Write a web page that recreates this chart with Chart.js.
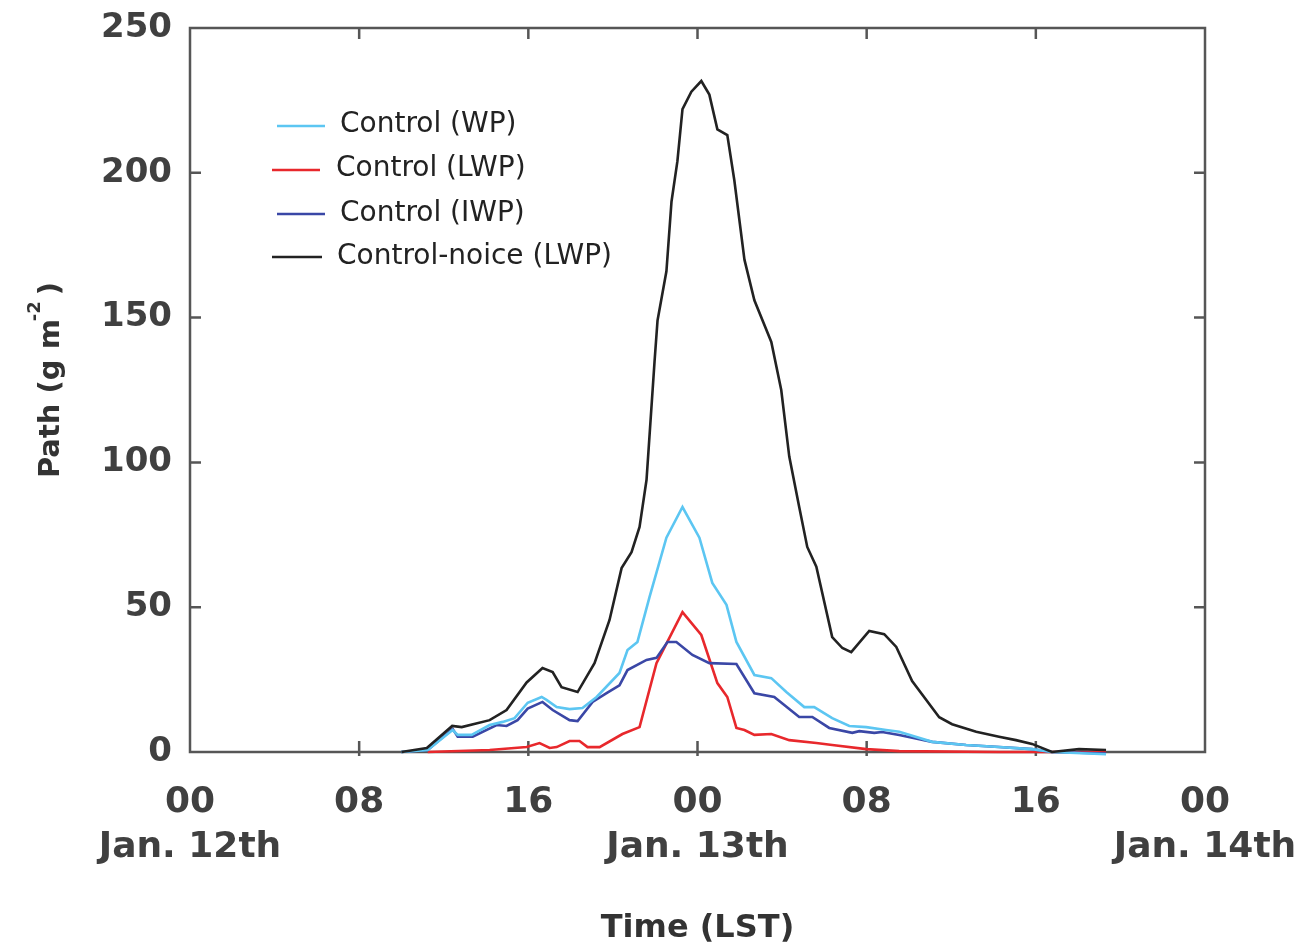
<!DOCTYPE html>
<html><head><meta charset="utf-8">
<script src="https://cdn.jsdelivr.net/npm/chart.js@4.4.1/dist/chart.umd.min.js"></script>
<style>html,body{margin:0;padding:0;background:#fff;}#wrap{width:1316px;height:952px;}</style>
</head><body><div id="wrap"><canvas id="c" width="1316" height="952"></canvas></div>
<script>
// ---- Data (hours since 00 LST Jan. 12th, values in g m^-2) ----
const xTickHours = [0, 8, 16, 24, 32, 40, 48];
const xTickHourLabels = ['00', '08', '16', '00', '08', '16', '00'];
const xTickDayLabels = ['Jan. 12th', '', '', 'Jan. 13th', '', '', 'Jan. 14th'];
const yTicks = [0, 50, 100, 150, 200, 250];

const noiceHours = [10.0,11.2,12.4,12.85,14.17,14.97,15.92,16.67,17.15,17.57,18.33,19.13,19.84,20.41,20.88,21.26,21.59,21.97,22.11,22.53,22.77,23.05,23.29,23.71,24.18,24.56,24.94,25.41,25.74,26.22,26.69,27.49,27.96,28.34,28.81,29.19,29.62,30.37,30.85,31.27,32.12,32.83,33.4,34.15,35.43,36.04,37.18,38.26,39.06,39.82,40.76,42.04,43.32];
const noiceLWP   = [0,1.4,9,8.6,11,14.5,24,29,27.6,22.4,20.7,30.7,45.6,63.5,69,77.7,94,135,149,166,190,204,222,228,231.7,227,215,213,197.5,170,156,141.6,125,102,84.6,70.8,64,39.7,35.9,34.5,41.8,40.7,36.3,24.5,12,9.6,7,5.3,4.1,2.8,0,1,0.7];

const wpHours = [10.0,11.24,12.42,12.66,13.32,14.17,14.79,15.35,15.97,16.63,16.86,17.34,17.95,18.56,19.23,20.31,20.69,21.16,21.73,22.53,23.29,24.09,24.7,25.37,25.84,26.69,27.49,28.2,29.05,29.52,30.37,31.18,31.98,32.92,33.54,35.1,36.7,38.26,39.82,40.76,43.32];
const wpValues = [0,0.7,7.6,5.9,5.9,9.3,10.4,11.7,17,19,18,15.5,14.8,15.2,19,27.3,35.2,38,53.5,74,84.6,74,58.4,50.8,38,26.6,25.5,20.7,15.5,15.5,11.7,9,8.6,7.6,7,3.5,2.4,1.7,1,0,-0.8];

const lwpHours = [11.24,14.17,15.92,16.53,17.01,17.34,17.95,18.42,18.8,19.37,20.45,21.26,22.06,23.29,24.18,24.94,25.41,25.84,26.22,26.69,27.49,28.34,29.62,30.37,31.98,33.54,38.26,43.32];
const lwpValues = [0,0.7,1.7,3.1,1.4,1.7,3.8,3.8,1.7,1.7,6.2,8.6,30.7,48.3,40.4,23.8,19,8.3,7.6,5.9,6.2,4.1,3.1,2.4,1,0.3,0,0];

const iwpHours = [10.0,11.24,12.42,12.66,13.37,14.5,14.97,15.49,15.97,16.67,17.15,17.95,18.33,19.04,19.7,20.31,20.69,21.59,22.06,22.58,23.0,23.76,24.56,25.84,26.69,27.63,28.81,29.43,30.23,31.32,31.65,32.36,32.73,33.54,35.1,36.7,38.26,39.82,40.76,43.32];
const iwpValues = [0,0.7,8,5.3,5.3,9.3,9,11,15,17.3,14.5,11,10.7,17.3,20.3,23,28.3,31.8,32.5,38,38,33.5,30.7,30.4,20.3,19,12.1,12.1,8.3,6.6,7.2,6.6,6.9,5.9,3.5,2.4,1.7,1,0,-0.5];

const seriesNames = ['Control (WP)', 'Control (LWP)', 'Control (IWP)', 'Control-noice (LWP)'];
const seriesColors = ['#5cc6f2', '#e8282c', '#3a47a6', '#222222'];

function pts(h, v) { return h.map((x, i) => ({ x: x, y: v[i] })); }

const FRAME = '#565656';

const framePlugin = {
  id: 'frame',
  beforeDatasetsDraw(chart) {
    const { ctx, chartArea: a, scales: { x, y } } = chart;
    ctx.save();
    ctx.strokeStyle = FRAME;
    ctx.lineWidth = 2.5;
    ctx.strokeRect(a.left, a.top, a.right - a.left, a.bottom - a.top);
    const L = 11;
    ctx.beginPath();
    yTicks.forEach(v => {
      if (v === 0 || v === 250) return;
      const py = y.getPixelForValue(v);
      ctx.moveTo(a.left, py); ctx.lineTo(a.left + L, py);
      ctx.moveTo(a.right, py); ctx.lineTo(a.right - L, py);
    });
    xTickHours.forEach(h => {
      if (h === 0 || h === 48) return;
      const px = x.getPixelForValue(h);
      ctx.moveTo(px, a.bottom + 4); ctx.lineTo(px, a.bottom - L);
      ctx.moveTo(px, a.top); ctx.lineTo(px, a.top + L);
    });
    ctx.stroke();
    ctx.restore();
  },
  afterDraw(chart) {
    const { ctx } = chart;
    ctx.save();
    // Y axis title with superscript
    ctx.translate(59, 380);
    ctx.rotate(-Math.PI / 2);
    ctx.fillStyle = '#333';
    ctx.textBaseline = 'alphabetic';
    ctx.textAlign = 'left';
    const main = 'Path (g m';
    const fMain = 'bold 29px "DejaVu Sans"';
    const fSup = 'bold 18px "DejaVu Sans"';
    ctx.font = fMain;
    const wMain = ctx.measureText(main).width;
    ctx.font = fSup;
    const wSup = ctx.measureText('-2').width;
    ctx.font = fMain;
    const wPar = ctx.measureText(')').width;
    const total = wMain + wSup + 4 + wPar;
    let x0 = -total / 2;
    ctx.fillText(main, x0, 0);
    ctx.font = fSup;
    ctx.fillText('-2', x0 + wMain - 2, -19);
    ctx.font = fMain;
    ctx.fillText(')', x0 + wMain + wSup + 4, 0);
    ctx.restore();

    // Legend inside plot
    ctx.save();
    const rows = [
      { i: 0, x1: 277, x2: 325, ly: 126, tx: 340, ty: 125 },
      { i: 1, x1: 272, x2: 320, ly: 170, tx: 336, ty: 169 },
      { i: 2, x1: 277, x2: 325, ly: 214, tx: 340, ty: 214 },
      { i: 3, x1: 272, x2: 322, ly: 257, tx: 337, ty: 257 }
    ];
    ctx.font = '28px "DejaVu Sans"';
    ctx.textBaseline = 'middle';
    ctx.textAlign = 'left';
    rows.forEach(r => {
      ctx.strokeStyle = seriesColors[r.i];
      ctx.lineWidth = 2.5;
      ctx.beginPath(); ctx.moveTo(r.x1, r.ly); ctx.lineTo(r.x2, r.ly); ctx.stroke();
      ctx.fillStyle = '#222';
      ctx.fillText(seriesNames[r.i], r.tx, r.ty);
    });
    ctx.restore();
  }
};

const datasets = [
  { label: seriesNames[3], data: pts(noiceHours, noiceLWP), borderColor: seriesColors[3] },
  { label: seriesNames[0], data: pts(wpHours, wpValues), borderColor: seriesColors[0] },
  { label: seriesNames[2], data: pts(iwpHours, iwpValues), borderColor: seriesColors[2] },
  { label: seriesNames[1], data: pts(lwpHours, lwpValues), borderColor: seriesColors[1] }
].map(d => Object.assign(d, { borderWidth: 2.6, pointRadius: 0, tension: 0, fill: false, clip: false }));

new Chart(document.getElementById('c'), {
  type: 'line',
  data: { datasets },
  options: {
    responsive: false,
    animation: false,
    devicePixelRatio: 1,
    layout: { padding: { left: 0, right: 111, top: 28, bottom: 0 } },
    plugins: { legend: { display: false }, tooltip: { enabled: false } },
    scales: {
      x: {
        type: 'linear', min: 0, max: 48,
        afterBuildTicks(scale) { scale.ticks = xTickHours.map(v => ({ value: v })); },
        afterFit(scale) { scale.height = 200; scale.paddingLeft = 0; scale.paddingRight = 0; },
        grid: { display: false, drawTicks: false },
        border: { display: false },
        ticks: {
          autoSkip: false, maxRotation: 0, padding: 28,
          color: '#404040',
          font: { family: '"DejaVu Sans"', size: 36, weight: 'bold', lineHeight: 1.25 },
          callback(v) {
            const i = xTickHours.indexOf(v);
            if (i < 0) return '';
            return xTickDayLabels[i] ? [xTickHourLabels[i], xTickDayLabels[i]] : xTickHourLabels[i];
          }
        },
        title: { display: true, text: 'Time (LST)', color: '#333', font: { family: '"DejaVu Sans"', size: 32, weight: 'bold' }, padding: { top: 0 } }
      },
      y: {
        min: 0, max: 250,
        afterBuildTicks(scale) { scale.ticks = yTicks.map(v => ({ value: v })); },
        afterFit(scale) { scale.width = 190; scale.paddingTop = 0; scale.paddingBottom = 0; },
        grid: { display: false, drawTicks: false },
        border: { display: false },
        ticks: {
          padding: 18, color: '#404040',
          font: { family: '"DejaVu Sans"', size: 34, weight: 'bold' }
        }
      }
    }
  },
  plugins: [framePlugin]
});
</script>
</body></html>
